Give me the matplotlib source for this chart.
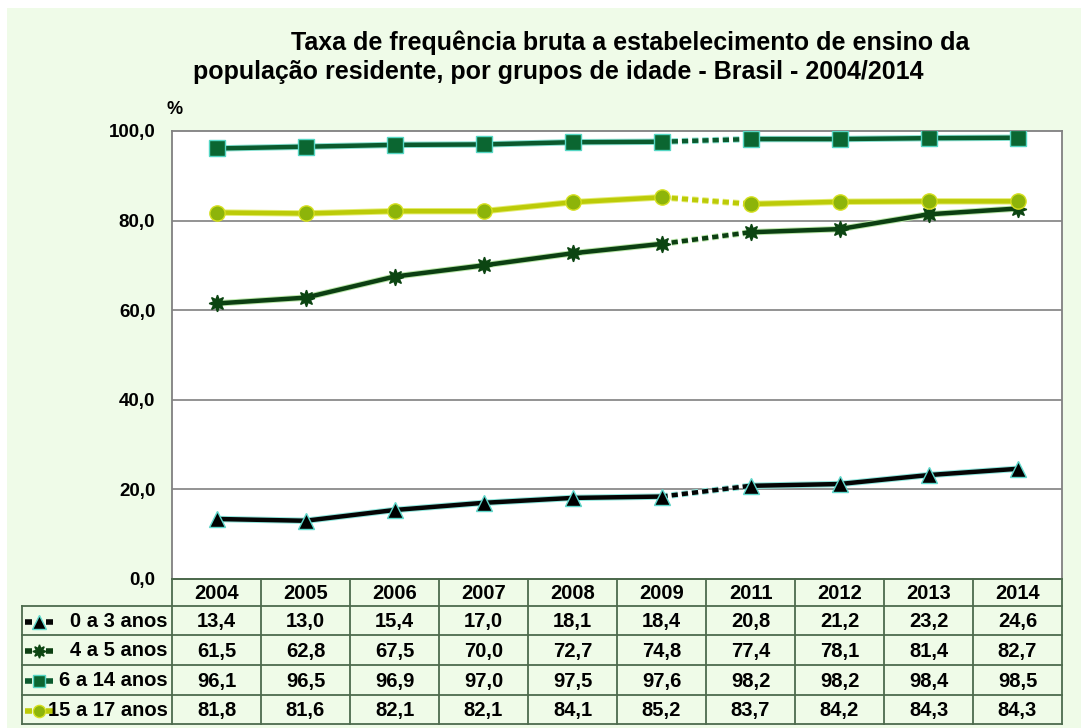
import numpy as np
import matplotlib.pyplot as plt
import matplotlib.patheffects as pe
from matplotlib.lines import Line2D
from matplotlib.patches import Rectangle

plt.rcParams['font.family'] = ['Liberation Sans', 'DejaVu Sans']
plt.rcParams['font.weight'] = 'bold'

# Data
years = ['2004', '2005', '2006', '2007', '2008', '2009', '2011', '2012', '2013', '2014']
groups = ['0 a 3 anos', '4 a 5 anos', '6 a 14 anos', '15 a 17 anos']
v_0_3 = [13.4, 13.0, 15.4, 17.0, 18.1, 18.4, 20.8, 21.2, 23.2, 24.6]
v_4_5 = [61.5, 62.8, 67.5, 70.0, 72.7, 74.8, 77.4, 78.1, 81.4, 82.7]
v_6_14 = [96.1, 96.5, 96.9, 97.0, 97.5, 97.6, 98.2, 98.2, 98.4, 98.5]
v_15_17 = [81.8, 81.6, 82.1, 82.1, 84.1, 85.2, 83.7, 84.2, 84.3, 84.3]
series = [v_0_3, v_4_5, v_6_14, v_15_17]
y_ticks = [0, 20, 40, 60, 80, 100]

# styles: line color, halo, marker, marker face, marker edge, marker size
styles = [
    dict(color='#050505', halo='#8fe6dc', marker='^', mfc='#000000', mec='#5fd8cc', ms=12),
    dict(color='#0c3f12', halo='#b9e6a8', marker=(8, 1, 0), mfc='#0c4512', mec='#0c4512', ms=12),
    dict(color='#0b5a2e', halo='#86e0d0', marker='s', mfc='#0b6631', mec='#55d6c4', ms=11),
    dict(color='#bccb08', halo='#e4ec70', marker='o', mfc='#8db40a', mec='#d6e020', ms=11),
]

W, H = 1081, 728
fig = plt.figure(figsize=(W / 100, H / 100), dpi=100)
fig.patch.set_facecolor('white')
fig.patches.append(Rectangle((7 / W, 0), 1 - 7 / W, 1 - 8 / H, transform=fig.transFigure,
                             facecolor='#effbe8', edgecolor='none', zorder=-10))

def fx(px):
    return px / W

def fy(py):
    return 1 - py / H

# main plot
ax = fig.add_axes([fx(172), fy(579), fx(1062) - fx(172), fy(131) - fy(579)])
ax.set_facecolor('white')
x = np.arange(len(years))
for vals, st in zip(series, styles):
    vals = np.array(vals)
    halo = [pe.Stroke(linewidth=4.6, foreground=st['halo']), pe.Normal()]
    ax.plot(x[:6], vals[:6], color=st['color'], lw=3.2, solid_capstyle='butt',
            path_effects=halo, zorder=3)
    ax.plot(x[5:7], vals[5:7], color=st['color'], lw=3.2, dashes=(1.4, 0.9),
            path_effects=halo, zorder=3)
    ax.plot(x[6:], vals[6:], color=st['color'], lw=3.2, solid_capstyle='butt',
            path_effects=halo, zorder=3)
    ax.plot(x, vals, ls='none', marker=st['marker'], ms=st['ms'], mfc=st['mfc'],
            mec=st['mec'], mew=1.0, zorder=4)

ax.set_xlim(-0.5, len(years) - 0.5)
ax.set_ylim(0, 100)
ax.set_xticks([])
ax.set_yticks(y_ticks)
ax.set_yticklabels([f'{t:.1f}'.replace('.', ',') for t in y_ticks], fontsize=13.5, fontweight='bold')
ax.tick_params(axis='y', length=0, pad=12)
for t in y_ticks[1:-1]:
    ax.axhline(t, color='#8a8a8a', lw=1.3, zorder=1)
for side in ['top', 'right', 'left']:
    ax.spines[side].set_color('#808080')
    ax.spines[side].set_linewidth(1.3)
ax.spines['bottom'].set_color('#4d6a4d')
ax.spines['bottom'].set_linewidth(1.3)

fig.text(fx(175), fy(109), '%', fontsize=13, fontweight='bold', ha='center', va='center')

# title
fig.text(fx(630), fy(50), 'Taxa de frequência bruta a estabelecimento de ensino da',
         fontsize=18, fontweight='bold', ha='center', va='baseline')
fig.text(fx(193), fy(79), 'população residente, por grupos de idade - Brasil - 2004/2014',
         fontsize=18, fontweight='bold', ha='left', va='baseline')

# data table under the chart
tx0, tx1 = 22, 1062
ty0, ty1 = 579, 724
tab = fig.add_axes([fx(tx0), fy(ty1), fx(tx1) - fx(tx0), fy(ty0) - fy(ty1)])
tab.set_xlim(0, tx1 - tx0)
tab.set_ylim(ty1 - ty0, 0)
tab.axis('off')
lab_w = 172 - tx0
col_w = (tx1 - 172) / len(years)
row_edges = [0, 27, 56, 86, 116, 145]
lc = '#4d6a4d'
lw = 1.3
# horizontal lines
tab.plot([lab_w, tx1 - tx0], [0, 0], color=lc, lw=lw, clip_on=False)
for r in row_edges[1:]:
    tab.plot([0, tx1 - tx0], [r, r], color=lc, lw=lw, clip_on=False)
# vertical lines
tab.plot([0, 0], [row_edges[1], row_edges[-1]], color=lc, lw=lw, clip_on=False)
for c in range(len(years) + 1):
    xc = lab_w + c * col_w
    tab.plot([xc, xc], [0, row_edges[-1]], color=lc, lw=lw, clip_on=False)

for c, yr in enumerate(years):
    tab.text(lab_w + (c + 0.5) * col_w, (row_edges[0] + row_edges[1]) / 2 + 1, yr,
             fontsize=14.5, fontweight='bold', ha='center', va='center')
for r, (g, vals, st) in enumerate(zip(groups, series, styles)):
    yc = (row_edges[r + 1] + row_edges[r + 2]) / 2 + 1
    for c, v in enumerate(vals):
        tab.text(lab_w + (c + 0.5) * col_w, yc, f'{v:.1f}'.replace('.', ','),
                 fontsize=14.5, fontweight='bold', ha='center', va='center')
    tab.text(lab_w - 4, yc, g, fontsize=14.5, fontweight='bold', ha='right', va='center')
    # legend swatch: dash - marker - dash
    tab.add_line(Line2D([3, 10], [yc, yc], color=st['color'], lw=4,
                        solid_capstyle='butt', clip_on=False))
    tab.add_line(Line2D([24, 31], [yc, yc], color=st['color'], lw=4,
                        solid_capstyle='butt', clip_on=False))
    tab.add_line(Line2D([17], [yc], ls='none', marker=st['marker'], ms=st['ms'] * 0.8,
                        mfc=st['mfc'], mec=st['mec'], mew=1.0, clip_on=False))

fig.savefig('out.png', dpi=100, facecolor=fig.get_facecolor())
